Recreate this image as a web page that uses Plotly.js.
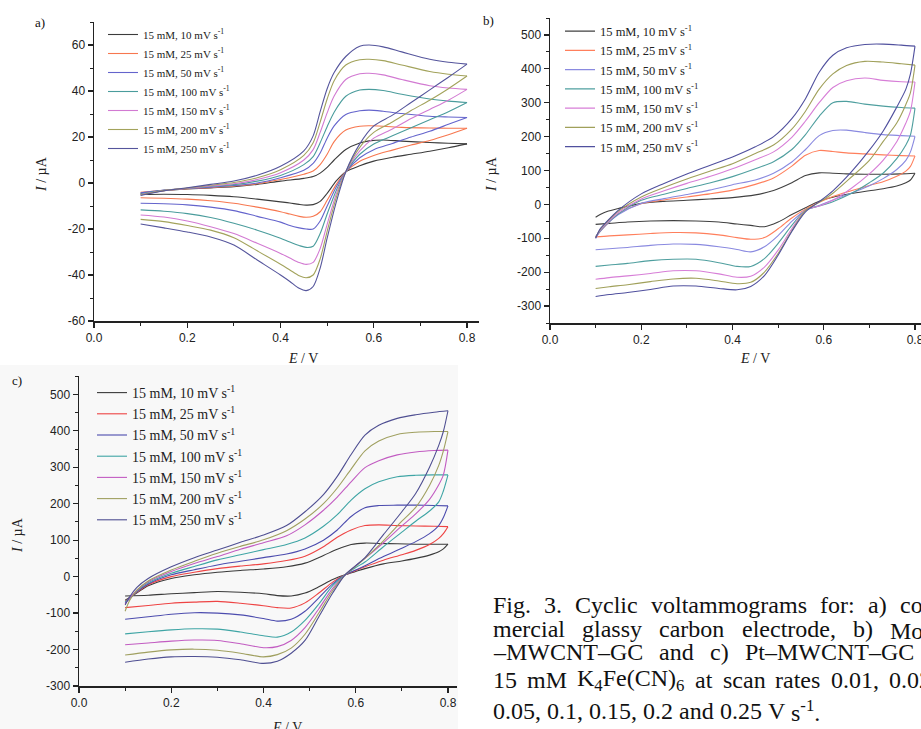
<!DOCTYPE html>
<html>
<head>
<meta charset="utf-8">
<script src="https://cdn.plot.ly/plotly-3.0.1.min.js"></script>
<style>html,body{margin:0;padding:0;background:#fff;}#chart{width:921px;height:729px;}</style>
</head>
<body>
<div id="chart"></div>
<script>
// ---------- DATA ----------
const rates = ['10', '25', '50', '100', '150', '200', '250'];

// tick labels
const xTickVals = [0, 0.2, 0.4, 0.6, 0.8];
const xTickText = ['0.0', '0.2', '0.4', '0.6', '0.8'];
const aYTickVals = [-60, -40, -20, 0, 20, 40, 60];
const aYTickText = ['-60', '-40', '-20', '0', '20', '40', '60'];
const bcYTickVals = [-300, -200, -100, 0, 100, 200, 300, 400, 500];
const bcYTickText = ['-300', '-200', '-100', '0', '100', '200', '300', '400', '500'];

// Panel a) – forward (anodic) and reverse (cathodic) scans, E in V, I in µA
const aEf = [0.10,0.15,0.20,0.25,0.30,0.35,0.40,0.45,0.47,0.485,0.50,0.515,0.54,0.57,0.59,0.62,0.66,0.72,0.76,0.80];
const a_f10  = [-4.5,-3.3,-2.6,-2.1,-1.6,-0.6,0.8,2.0,2.8,4.3,6.8,10.0,14.6,17.4,18.3,18.7,18.2,17.6,17.3,17.0];
const a_f25  = [-4.0,-3.2,-2.5,-2.0,-1.3,-0.3,1.5,3.8,5.2,8.0,12.5,18.0,23.0,24.7,24.9,24.7,24.2,23.9,23.8,23.8];
const a_f50  = [-4.3,-3.1,-2.4,-1.8,-1.1,0.0,2.3,5.5,8.5,13.0,19.5,24.8,29.8,31.4,31.7,31.2,30.2,29.0,28.7,28.5];
const a_f100 = [-4.8,-3.2,-2.3,-1.5,-0.7,0.8,3.3,8.0,11.5,17.5,24.5,30.8,37.7,40.4,40.7,40.2,38.6,36.5,35.6,35.0];
const a_f150 = [-5.0,-3.3,-2.3,-1.3,-0.3,1.5,4.5,10.0,14.5,22.0,30.5,37.8,45.0,47.5,47.7,47.0,45.0,42.3,41.3,40.7];
const a_f200 = [-5.2,-3.3,-2.2,-1.0,0.2,2.3,5.8,12.0,17.5,26.5,36.5,44.5,51.3,53.6,53.8,53.2,51.3,48.5,47.3,46.5];
const a_f250 = [-5.4,-3.4,-2.1,-0.6,0.9,3.4,7.3,14.0,20.5,31.0,41.0,48.0,55.0,59.5,60.0,59.2,57.0,53.8,52.5,51.7];
const aEr = [0.80,0.76,0.72,0.68,0.64,0.60,0.57,0.54,0.52,0.50,0.485,0.47,0.455,0.44,0.42,0.40,0.35,0.30,0.25,0.20,0.15,0.10];
const a_r10  = [17.0,15.3,13.8,12.5,11.2,9.5,7.5,4.9,1.0,-4.5,-8.0,-9.4,-9.6,-9.3,-8.7,-8.2,-7.0,-6.0,-5.4,-5.0,-4.9,-5.0];
const a_r25  = [23.8,21.0,18.5,16.5,14.3,12.0,9.5,4.9,-0.5,-7.5,-12.5,-14.5,-14.9,-14.5,-13.5,-12.5,-10.5,-8.8,-7.7,-7.0,-6.6,-6.4];
const a_r50  = [28.5,25.5,22.5,20.0,17.2,14.5,11.0,4.9,-1.5,-10.0,-16.5,-20.0,-20.0,-19.5,-18.5,-17.0,-14.5,-12.0,-10.5,-9.5,-9.0,-8.8];
const a_r100 = [35.0,31.0,27.5,24.0,20.5,17.0,12.5,4.9,-3.0,-13.5,-22.0,-27.5,-28.0,-27.2,-25.7,-24.0,-20.5,-17.5,-15.0,-13.3,-12.3,-11.7];
const a_r150 = [40.7,36.0,32.0,28.0,23.5,19.5,14.0,4.9,-4.5,-18.0,-28.5,-34.5,-35.4,-34.6,-32.6,-30.6,-26.2,-22.0,-19.0,-16.5,-14.8,-13.9];
const a_r200 = [46.5,41.0,36.0,31.5,26.5,22.0,15.5,4.9,-6.0,-21.0,-33.0,-40.0,-41.2,-40.3,-37.8,-35.3,-29.5,-23.8,-20.5,-18.5,-16.8,-15.8];
const a_r250 = [51.7,46.0,40.5,35.0,29.5,24.8,17.0,4.9,-8.0,-24.0,-37.0,-45.0,-46.8,-45.8,-42.8,-40.0,-33.5,-27.0,-23.5,-21.3,-19.5,-17.8];

// Panel b)
const bEf = [0.10,0.11,0.125,0.15,0.20,0.25,0.30,0.35,0.40,0.45,0.49,0.53,0.56,0.59,0.62,0.65,0.69,0.73,0.77,0.80];
const b_f10  = [-38,-30,-21,-12,3,9,12,16,20,28,41,64,85,93,92,90,89,89,90,92];
const b_f25  = [-97,-80,-58,-28,2,13,22,31,42,59,78,113,145,159,156,152,149,146,144,143];
const b_f50  = [-100,-80,-58,-30,3,17,29,42,58,72,92,125,162,203,218,219,212,206,203,201];
const b_f100 = [-95,-78,-57,-28,12,30,47,63,82,105,126,162,206,260,300,304,296,290,286,284];
const b_f150 = [-97,-76,-55,-24,16,40,62,82,105,132,155,198,246,300,345,365,373,366,362,361];
const b_f200 = [-98,-74,-52,-20,22,50,75,98,120,150,175,222,275,340,385,410,422,420,415,411];
const b_f250 = [-100,-72,-50,-17,31,62,90,115,140,170,200,253,312,390,440,462,472,473,470,467];
const bEr = [0.80,0.79,0.78,0.76,0.73,0.70,0.66,0.62,0.59,0.56,0.53,0.50,0.47,0.44,0.41,0.37,0.32,0.27,0.22,0.17,0.13,0.10];
const b_r10  = [92,72,64,54,46,40,32,21,9,-10,-30,-52,-66,-62,-58,-52,-49,-48,-49,-52,-56,-59];
const b_r25  = [143,112,98,83,67,56,40,23,6,-14,-40,-72,-98,-103,-98,-90,-84,-83,-86,-90,-93,-96];
const b_r50  = [201,155,130,103,76,55,33,13,-3,-17,-50,-92,-125,-140,-133,-125,-118,-117,-121,-127,-131,-134];
const b_r100 = [284,205,175,135,92,64,32,8,-5,-17,-62,-115,-160,-183,-183,-172,-162,-162,-166,-174,-179,-183];
const b_r150 = [361,275,240,185,130,90,47,12,-5,-17,-72,-135,-185,-212,-215,-205,-196,-196,-204,-211,-216,-221];
const b_r200 = [411,330,295,240,185,130,80,33,6,-18,-78,-145,-200,-230,-234,-226,-218,-220,-228,-237,-243,-248];
const b_r250 = [467,385,340,287,216,160,95,40,8,-22,-80,-150,-210,-242,-252,-248,-241,-241,-251,-260,-266,-272];

// Panel c)
const cEf = [0.10,0.11,0.125,0.15,0.20,0.25,0.30,0.35,0.40,0.45,0.49,0.53,0.56,0.59,0.62,0.65,0.69,0.73,0.77,0.80];
const c_f10  = [-65,-57,-45,-25,-5,5,12,17,21,27,37,58,75,88,92,91,90,89,89,89];
const c_f25  = [-68,-58,-43,-22,0,12,22,29,35,44,56,82,108,128,140,142,140,139,138,137];
const c_f50  = [-72,-60,-42,-20,5,19,32,42,52,62,76,100,128,165,189,195,196,196,195,194];
const c_f100 = [-70,-58,-40,-17,9,28,46,60,74,88,106,138,170,210,241,260,274,278,279,279];
const c_f150 = [-75,-58,-38,-14,14,36,55,75,93,112,142,182,218,260,299,318,334,342,346,347];
const c_f200 = [-95,-65,-38,-12,18,42,64,83,101,126,158,200,243,295,345,372,390,396,398,398];
const c_f250 = [-78,-55,-30,-5,27,52,73,94,114,140,178,225,275,335,388,415,434,444,451,455];
const cEr = [0.80,0.79,0.78,0.76,0.73,0.70,0.66,0.62,0.60,0.577,0.55,0.52,0.49,0.46,0.43,0.40,0.35,0.30,0.25,0.20,0.15,0.10];
const c_r10  = [89,76,68,59,50,43,35,22,14,5,-8,-28,-45,-53,-52,-47,-43,-41,-44,-47,-51,-53];
const c_r25  = [137,118,105,88,72,60,45,27,17,5,-15,-45,-72,-86,-85,-80,-73,-68,-70,-73,-79,-85];
const c_r50  = [194,162,140,118,96,78,55,30,18,5,-20,-58,-95,-117,-122,-115,-105,-100,-99,-103,-110,-117];
const c_r100 = [279,235,205,180,152,122,82,40,25,5,-25,-75,-120,-152,-166,-162,-152,-144,-143,-146,-151,-157];
const c_r150 = [347,279,252,212,172,139,93,50,30,5,-32,-88,-140,-175,-192,-195,-184,-175,-174,-177,-182,-187];
const c_r200 = [398,345,305,250,190,152,98,50,28,5,-38,-100,-158,-196,-214,-220,-210,-202,-199,-201,-207,-215];
const c_r250 = [455,398,360,300,228,178,115,52,30,5,-45,-110,-175,-210,-232,-238,-228,-221,-219,-220,-226,-235];

// caption text
const capLines = [
  ['Fig.', '3.', 'Cyclic', 'voltammograms', 'for:', 'a)', 'com-'],
  ['mercial', 'glassy', 'carbon', 'electrode,', 'b)', 'MoO<sub>3</sub>'],
  ['–MWCNT–GC', 'and', 'c)', 'Pt–MWCNT–GC', 'in'],
  ['15', 'mM', 'K<sub>4</sub>Fe(CN)<sub>6</sub>', 'at', 'scan', 'rates', '0.01,', '0.025,'],
  ['0.05,', '0.1,', '0.15,', '0.2', 'and', '0.25', 'V', 's<sup>-1</sup>.']
];

// ---------- STYLE ----------
const colorsA = ['#3c3c3c','#f7774f','#6464cc','#4a9c9c','#d27ad2','#a3a35c','#55559c'];
const colorsB = ['#404040','#ff7f5c','#8a8ae0','#4f9f9f','#d77ed7','#a0a05a','#50509e'];
const colorsC = ['#3a3a3a','#ee4444','#4c4cae','#3fa5a5','#c25cc2','#a0a060','#4f4f92'];

const W = 921, H = 729;
const PX = v => v / W;
const PY = v => 1 - v / H;

const traces = [];
function addPanel(Ef, fwd, Er, rev, colors, xa, ya, leg) {
  for (let i = 0; i < rates.length; i++) {
    const name = '15 mM, ' + rates[i] + ' mV s<sup>-1</sup>';
    const line = {color: colors[i], width: 1.1, shape: 'spline', smoothing: 0.8};
    traces.push({x: Ef, y: fwd[i], type: 'scatter', mode: 'lines', name: name,
      line: line, xaxis: xa, yaxis: ya, legend: leg, showlegend: true, hoverinfo: 'skip'});
    traces.push({x: Er, y: rev[i], type: 'scatter', mode: 'lines', name: name,
      line: line, xaxis: xa, yaxis: ya, legend: leg, showlegend: false, hoverinfo: 'skip'});
  }
}
addPanel(aEf, [a_f10,a_f25,a_f50,a_f100,a_f150,a_f200,a_f250], aEr,
         [a_r10,a_r25,a_r50,a_r100,a_r150,a_r200,a_r250], colorsA, 'x', 'y', 'legend');
addPanel(bEf, [b_f10,b_f25,b_f50,b_f100,b_f150,b_f200,b_f250], bEr,
         [b_r10,b_r25,b_r50,b_r100,b_r150,b_r200,b_r250], colorsB, 'x2', 'y2', 'legend2');
addPanel(cEf, [c_f10,c_f25,c_f50,c_f100,c_f150,c_f200,c_f250], cEr,
         [c_r10,c_r25,c_r50,c_r100,c_r150,c_r200,c_r250], colorsC, 'x3', 'y3', 'legend3');

const tickFont = {family: 'Liberation Sans, Arial, sans-serif', size: 12, color: '#222'};
function minor(d) {
  return {tickmode: 'linear', tick0: 0, dtick: d, ticks: 'outside', ticklen: 3, tickwidth: 1, tickcolor: '#222', showgrid: false};
}
function axis(extra) {
  return Object.assign({
    showline: true, linecolor: '#222', linewidth: 1.5, mirror: false,
    showgrid: false, zeroline: false, ticks: 'outside', ticklen: 5, tickwidth: 1.2,
    tickcolor: '#222', tickfont: tickFont, tickmode: 'array', ticklabeloverflow: 'allow'
  }, extra);
}

const legendBase = {
  xanchor: 'left', yanchor: 'top', bgcolor: 'rgba(0,0,0,0)', borderwidth: 0,
  itemwidth: 30, tracegroupgap: 0, itemclick: false, itemdoubleclick: false
};
const serif = 'Liberation Serif, Times New Roman, serif';

const annotations = [];
function ann(text, x, y, opts) {
  annotations.push(Object.assign({text: text, xref: 'paper', yref: 'paper', x: PX(x), y: PY(y),
    showarrow: false, xanchor: 'center', yanchor: 'middle', borderpad: 0,
    font: {family: serif, size: 14, color: '#222'}}, opts || {}));
}
// panel labels
ann('a)', 40, 22, {font: {family: serif, size: 13, color: '#111'}});
ann('b)', 488, 20, {font: {family: serif, size: 13, color: '#111'}});
ann('c)', 17, 380, {font: {family: serif, size: 13, color: '#111'}});
// axis titles
ann('<i>E</i> / V', 303, 358);
ann('<i>I</i> / µA', 41, 174, {textangle: -90});
ann('<i>E</i> / V', 755, 358);
ann('<i>I</i> / µA', 491, 174, {textangle: -90});
ann('<i>E</i> / V', 287, 727);
ann('<i>I</i> / µA', 17, 535, {textangle: -90});

// caption: justified lines (column runs past the right edge of the picture)
const capSize = 24, capLeft = 492, capRight = 948;
const capY = [605, 629, 652, 680, 711];
const ctx = document.createElement('canvas').getContext('2d');
function tw(s, size) { ctx.font = size + 'px "Liberation Serif"'; return ctx.measureText(s).width; }
function wordWidth(w) {
  let total = 0;
  w.split(/(<su[bp]>.*?<\/su[bp]>)/).forEach(p => {
    if (!p) return;
    const m = p.match(/^<su[bp]>(.*)<\/su[bp]>$/);
    total += m ? tw(m[1], capSize * 0.7) : tw(p, capSize);
  });
  return total;
}
const spaceW = tw(' ', capSize);
capLines.forEach((words, li) => {
  const widths = words.map(wordWidth);
  const sum = widths.reduce((a, b) => a + b, 0);
  const justify = li < capLines.length - 1;
  const gap = justify ? (capRight - capLeft - sum) / (words.length - 1) : spaceW;
  let x = capLeft;
  words.forEach((w, wi) => {
    const shift = (w === 'MoO<sub>3</sub>') ? -4 : 0;
    ann(w, x, capY[li], {xanchor: 'left', yshift: shift, font: {family: serif, size: capSize, color: '#111'}});
    x += widths[wi] + gap;
  });
});

const layout = {
  width: W, height: H, margin: {l: 0, r: 0, t: 0, b: 0},
  paper_bgcolor: '#ffffff', plot_bgcolor: 'rgba(0,0,0,0)',
  xaxis:  axis({domain: [PX(94), PX(478.7)], range: [0, 0.825], anchor: 'y',
                tickvals: xTickVals, ticktext: xTickText, minor: minor(0.1)}),
  yaxis:  axis({domain: [PY(321), PY(22)], range: [-60, 70], anchor: 'x',
                tickvals: aYTickVals, ticktext: aYTickText, minor: minor(10)}),
  xaxis2: axis({domain: [PX(550), 1], range: [0, (921 - 550) / 456.25], anchor: 'y2',
                tickvals: xTickVals, ticktext: xTickText, minor: minor(0.1)}),
  yaxis2: axis({domain: [PY(323), PY(18)], range: [-350, 550], anchor: 'x2',
                tickvals: bcYTickVals, ticktext: bcYTickText, minor: minor(50)}),
  xaxis3: axis({domain: [PX(79), PX(457.2)], range: [0, 0.82], anchor: 'y3',
                tickvals: xTickVals, ticktext: xTickText, minor: minor(0.1)}),
  yaxis3: axis({domain: [PY(686), PY(376.1)], range: [-300, 550], anchor: 'x3',
                tickvals: bcYTickVals, ticktext: bcYTickText, minor: minor(50)}),
  legend:  Object.assign({}, legendBase, {x: PX(103), y: PY(20), font: {family: serif, size: 11, color: '#222'}}),
  legend2: Object.assign({}, legendBase, {x: PX(560), y: PY(16.5), font: {family: serif, size: 12.5, color: '#222'}}),
  legend3: Object.assign({}, legendBase, {x: PX(92), y: PY(377), font: {family: serif, size: 14, color: '#222'}}),
  shapes: [{type: 'rect', xref: 'paper', yref: 'paper', x0: 0, x1: PX(458), y0: 0, y1: PY(365),
            fillcolor: '#f8f8f8', line: {width: 0}, layer: 'below'}],
  annotations: annotations,
  showlegend: true
};

Plotly.newPlot('chart', traces, layout, {staticPlot: true, displayModeBar: false});
</script>
</body>
</html>
